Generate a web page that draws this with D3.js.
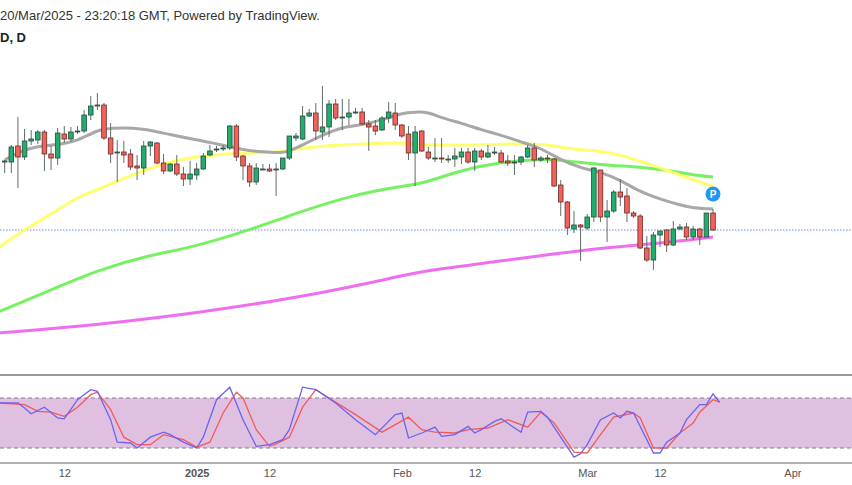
<!DOCTYPE html>
<meta charset="utf-8"/>
<title>Daily candles</title>
<script src="https://cdn.jsdelivr.net/npm/d3@7"></script>
<style>
  body { margin: 0; background: #fff; }
  text { font-family: Arial, "Liberation Sans", sans-serif; }
</style>
<svg width=852 height=485></svg>
<script>
// prices in pips (x10000), one candle a day from 3 Dec 2024
const startDay = "2024-12-03";
const opens  = [6838,6838,6854,6843,6859,6860,6868,6846,6842,6866,
  6861,6868,6869,6885,6894,6895,6862,6847,6848,6846,
  6834,6832,6854,6857,6837,6829,6836,6826,6821,6825,
  6831,6845,6850,6851,6852,6874,6844,6834,6818,6831,
  6831,6830,6831,6842,6862,6861,6884,6887,6868,6873,
  6896,6882,6883,6887,6888,6876,6874,6870,6882,6887,
  6875,6866,6847,6869,6848,6842,6842,6841,6841,6843,
  6848,6838,6849,6843,6847,6847,6839,6838,6838,6843,
  6852,6840,6842,6841,6815,6798,6771,6775,6772,6783,
  6830,6783,6789,6808,6804,6787,6784,6752,6740,6765,
  6770,6755,6771,6773,6763,6771,6763,6787];
const closes = [6839,6853,6843,6859,6861,6868,6846,6842,6867,6861,
  6868,6869,6885,6894,6895,6862,6846,6848,6845,6833,
  6832,6854,6858,6837,6829,6836,6826,6821,6826,6831,
  6844,6849,6851,6852,6874,6843,6834,6818,6832,6831,
  6829,6831,6842,6864,6864,6884,6887,6869,6873,6896,
  6882,6883,6887,6888,6876,6873,6869,6882,6888,6875,
  6864,6847,6868,6849,6842,6842,6841,6841,6844,6848,
  6838,6849,6843,6847,6848,6838,6837,6838,6843,6852,
  6840,6842,6841,6814,6798,6772,6775,6773,6783,6832,
  6783,6789,6808,6803,6787,6784,6752,6740,6765,6769,
  6755,6771,6773,6763,6771,6763,6787,6770];
const highs  = [6840,6855,6883,6871,6870,6870,6870,6854,6872,6874,
  6873,6874,6890,6904,6907,6897,6877,6860,6859,6851,
  6845,6859,6859,6858,6846,6837,6845,6833,6839,6837,
  6847,6855,6854,6855,6875,6876,6845,6837,6837,6836,
  6836,6837,6842,6864,6867,6894,6891,6897,6914,6900,
  6901,6901,6901,6892,6892,6880,6880,6884,6898,6897,
  6876,6874,6874,6870,6853,6862,6862,6845,6852,6852,
  6852,6852,6851,6855,6853,6850,6845,6845,6844,6855,
  6857,6844,6845,6842,6820,6799,6789,6776,6786,6833,
  6830,6800,6810,6821,6812,6789,6786,6764,6768,6769,
  6771,6779,6776,6777,6774,6772,6787,6791];
const lows   = [6827,6827,6812,6840,6855,6856,6829,6830,6835,6857,
  6858,6866,6867,6880,6890,6860,6837,6818,6837,6830,
  6820,6825,6844,6836,6826,6828,6824,6814,6815,6820,
  6830,6844,6848,6849,6850,6839,6820,6813,6815,6830,
  6828,6804,6830,6840,6859,6860,6883,6860,6860,6863,
  6880,6870,6875,6886,6875,6849,6865,6869,6877,6870,
  6862,6840,6814,6848,6840,6838,6837,6837,6833,6836,
  6836,6829,6840,6842,6845,6837,6834,6825,6835,6842,
  6833,6838,6837,6813,6784,6765,6767,6739,6770,6778,
  6778,6758,6787,6794,6778,6782,6751,6738,6730,6753,
  6748,6754,6770,6760,6760,6755,6763,6769];
// moving averages: [day, pips]
const maGray = [[0,6840],[2,6848],[5,6854],[8,6855],[11,6859],[14,6870],[16,6872],[21,6872],[25,6865],[30,6859],[33,6855],[36,6850],[39,6848],[42,6847],[43,6849],[45,6855],[48,6865],[51,6873],[54,6875],[57,6880],[60,6887],[62,6888],[64,6888],[66,6882],[69,6877],[72,6870],[75,6865],[78,6858],[81,6852],[84,6840],[87,6832],[90,6828],[93,6820],[96,6808],[99,6801],[102,6795],[104,6792],[107,6791]];
const maYellow = [[-1,6752],[2,6766],[5,6778],[8,6790],[11,6803],[14,6810],[17,6819],[20,6827],[23,6834],[26,6840],[30,6844],[33,6846],[36,6847],[39,6847],[42,6848],[45,6852],[48,6854],[51,6855],[54,6856],[57,6857],[60,6857],[63,6855],[66,6855],[69,6855],[72,6855],[75,6856],[78,6856],[81,6856],[84,6853],[87,6850],[90,6849],[93,6845],[96,6839],[99,6832],[102,6825],[105,6818],[107,6814]];
const maGreen = [[-1,6688],[7,6710],[14,6730],[22,6745],[28,6752],[37,6770],[45,6789],[52,6804],[60,6814],[63,6816],[69,6830],[75,6838],[81,6841],[84,6840],[90,6835],[96,6833],[101,6829],[105,6824],[107,6823]];
const maPink = [[-1,6667],[14,6675],[30,6688],[45,6703],[60,6724],[63,6729],[75,6739],[84,6747],[90,6752],[98,6756],[107,6763]];
const lastPrice = 6770;
// stochastic RSI: [day, value]
const stochK = [[-1,74],[2,74],[3,68],[4,61],[6,69],[8,56],[9,55],[11,78],[13,90],[14,88],[16,54],[17,27],[19,26],[20,20],[22,33],[24,39],[25,36],[27,27],[29,20],[30,33],[32,78],[34,93],[36,54],[38,22],[40,24],[42,30],[43,42],[45,93],[47,90],[50,74],[53,54],[56,36],[59,60],[60,62],[61,32],[63,38],[65,45],[66,34],[68,36],[70,46],[71,38],[72,42],[74,52],[75,55],[78,39],[79,63],[81,64],[82,57],[86,9],[87,13],[88,24],[90,54],[92,62],[93,56],[94,64],[95,62],[98,14],[99,14],[100,27],[102,38],[103,54],[105,72],[106,72],[107,85],[108,75]];
const stochD = [[-1,74],[3,72],[5,64],[7,63],[9,58],[11,69],[13,84],[14,87],[16,66],[18,33],[20,24],[22,24],[24,36],[27,30],[29,21],[31,27],[33,62],[35,87],[36,80],[38,42],[40,22],[41,25],[43,33],[45,69],[47,90],[49,80],[53,60],[57,39],[61,57],[63,42],[65,39],[68,38],[70,42],[73,44],[76,54],[79,45],[81,63],[83,50],[86,15],[88,14],[90,36],[92,57],[95,62],[96,56],[98,20],[100,20],[102,38],[104,50],[105,63],[107,78],[108,75]];
const tickDates = ["2024-12-12","2025-01-01","2025-01-12","2025-02-01","2025-02-12","2025-03-01","2025-03-12","2025-04-01"];
const tickLabels = ["12","2025","12","Feb","12","Mar","12","Apr"];

const svg = d3.select("svg");
const day0 = new Date(startDay + "T00:00:00Z");
const dayDate = i => d3.utcDay.offset(day0, i);
const x = d3.scaleUtc().domain([day0, dayDate(107)]).range([4.7, 713]);
const y = d3.scaleLinear().domain([7000, 6515]).range([0, 485]);
const ys = d3.scaleLinear().domain([20, 80]).range([448, 398]);

svg.append("text").attr("x", 0).attr("y", 20).attr("font-size", 13).attr("fill", "#333")
  .text("20/Mar/2025 - 23:20:18 GMT, Powered by TradingView.");
svg.append("text").attr("x", 0).attr("y", 42).attr("font-size", 13).attr("font-weight", "bold").attr("fill", "#222")
  .text("D, D");

// last price line
svg.append("line").attr("x1", 0).attr("x2", 852).attr("y1", y(lastPrice)).attr("y2", y(lastPrice))
  .attr("stroke", "#6f86f0").attr("stroke-dasharray", "1.5 1.5").attr("stroke-width", 1);

const maLine = d3.line().x(d => x(dayDate(d[0]))).y(d => y(d[1])).curve(d3.curveBasis);
[[maPink, "#ee66ee"], [maGreen, "#6ef05a"], [maYellow, "#ffff66"], [maGray, "#a3a3a3"]].forEach(([d, c]) => {
  svg.append("path").datum(d).attr("d", maLine).attr("fill", "none")
    .attr("stroke", c).attr("stroke-width", 3).attr("opacity", 0.95);
});

const candles = d3.range(opens.length).map(i => ({i, o: opens[i], c: closes[i], h: highs[i], l: lows[i]}));
const cg = svg.append("g").selectAll("g").data(candles).join("g");
cg.append("line")
  .attr("x1", d => x(dayDate(d.i))).attr("x2", d => x(dayDate(d.i)))
  .attr("y1", d => y(d.h)).attr("y2", d => y(d.l))
  .attr("stroke", "#5e6e68").attr("stroke-width", 1);
cg.append("rect")
  .attr("x", d => x(dayDate(d.i)) - 2.3).attr("width", 4.6)
  .attr("y", d => y(Math.max(d.o, d.c)))
  .attr("height", d => Math.max(1, Math.abs(y(d.o) - y(d.c))))
  .attr("fill", d => d.c >= d.o ? "#1fae6c" : "#f2615a")
  .attr("stroke", d => d.c >= d.o ? "#2c4a3c" : "#6a2a28").attr("stroke-width", 0.8);

// P marker
const pm = svg.append("g").attr("transform", `translate(${x(dayDate(107))},${y(6806)})`);
pm.append("circle").attr("r", 7.5).attr("fill", "#2196f3");
pm.append("text").attr("text-anchor", "middle").attr("dy", 4).attr("font-size", 10)
  .attr("font-weight", "bold").attr("fill", "#fff").text("P");

// lower pane
svg.append("line").attr("x1", 0).attr("x2", 852).attr("y1", 375).attr("y2", 375).attr("stroke", "#999").attr("stroke-width", 2);
svg.append("rect").attr("x", 0).attr("width", 852).attr("y", ys(80)).attr("height", ys(20) - ys(80)).attr("fill", "#dfc0e0");
[20, 80].forEach(v => svg.append("line").attr("x1", 0).attr("x2", 852).attr("y1", ys(v)).attr("y2", ys(v))
  .attr("stroke", "#8a7a8a").attr("stroke-dasharray", "4 3"));
const sLine = d3.line().x(d => x(dayDate(d[0]))).y(d => ys(d[1]));
svg.append("path").datum(stochD).attr("d", sLine).attr("fill", "none").attr("stroke", "#f25b5b").attr("stroke-width", 1.3);
svg.append("path").datum(stochK).attr("d", sLine).attr("fill", "none").attr("stroke", "#6b63f0").attr("stroke-width", 1.3);

svg.append("line").attr("x1", 0).attr("x2", 852).attr("y1", 463).attr("y2", 463).attr("stroke", "#999").attr("stroke-width", 1.5);
const axis = d3.axisBottom(x)
  .tickValues(tickDates.map(s => new Date(s + "T00:00:00Z")))
  .tickFormat((d, i) => tickLabels[i]).tickSize(0).tickPadding(6);
const ag = svg.append("g").attr("transform", "translate(0,463)").call(axis);
ag.select(".domain").remove();
ag.selectAll("text").attr("font-size", 11).attr("fill", "#555")
  .attr("font-weight", (d, i) => tickLabels[i] === "2025" ? "bold" : null);
</script>
